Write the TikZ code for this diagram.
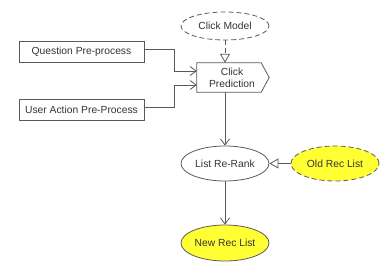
\documentclass[tikz,border=0pt]{standalone}
\usepackage{fontspec}
\setmainfont{Liberation Sans}
\usetikzlibrary{arrows.meta,shapes.geometric}
\definecolor{linegray}{HTML}{5A5A5A}
\definecolor{txtgray}{HTML}{333333}
\definecolor{recyellow}{HTML}{FFFF33}
\begin{document}
\begin{tikzpicture}[x=1pt,y=-1pt,
  every node/.style={font=\fontsize{10.3}{12}\selectfont, text=txtgray},
  oval/.style={ellipse, draw=linegray, line width=0.8pt, minimum width=88pt, minimum height=28pt, inner sep=0pt},
  procbox/.style={rectangle, draw=linegray, line width=0.8pt, minimum width=125pt, minimum height=21pt, inner sep=0pt},
  conn/.style={draw=linegray, line width=0.8pt},
  dsh/.style={dash pattern=on 5pt off 3pt},
  vtip/.style={-{Straight Barb[length=6pt,width=9pt]}},
  ttip/.style={-{Triangle[open,length=9pt,width=10pt,fill=white]}}
]
\useasboundingbox (0,0) rectangle (387,267);
\node[oval, dsh] (cm) at (225,26) {Click Model};
\node[procbox] (qp) at (81.5,51.5) {Question Pre-process};
\node[procbox] (ua) at (81.5,110) {User Action Pre-Process};
\node[rectangle, minimum width=64pt, minimum height=29pt, inner sep=0pt, align=center, text width=64pt] (cp) at (229,77.5) {\hspace*{6pt}Click\\\hspace*{6pt}Prediction};
\draw[conn] (cp.north west) -- (cp.north east) -- ([xshift=8pt]cp.east) -- (cp.south east) -- (cp.south west) -- cycle;
\node[oval, minimum height=35pt] (lr) at (225,163.5) {List Re-Rank};
\node[oval, dsh, fill=recyellow, minimum height=35pt] (old) at (335,163.5) {Old Rec List};
\node[oval, fill=recyellow, minimum height=36pt] (new) at (225,243) {New Rec List};
\draw[conn, vtip] ([yshift=2pt]qp.east) -- (174,49.5) |- ([yshift=6.5pt]cp.west);
\draw[conn, vtip] ([yshift=3pt]ua.east) -- (174,107) |- ([yshift=-7.5pt]cp.west);
\draw[conn, ttip, dsh] (cm.south) -- (cm.south |- cp.north);
\draw[conn, vtip] (cm.south |- cp.south) -- (lr.north);
\draw[conn, ttip] (old.west) -- (lr.east);
\draw[conn, vtip] (lr.south) -- (new.north);
\end{tikzpicture}
\end{document}
